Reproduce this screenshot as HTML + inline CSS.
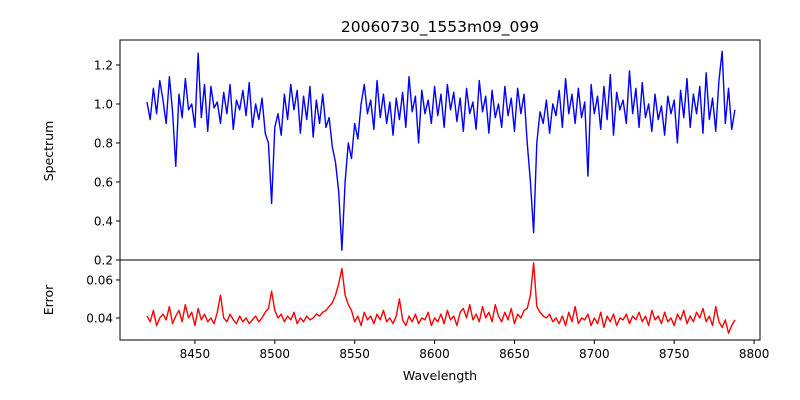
<!DOCTYPE html>
<html><head><meta charset="utf-8"><style>
body{margin:0;background:#fff;}
svg{display:block;font-family:"DejaVu Sans","Liberation Sans",sans-serif;}
</style></head><body>
<svg id="chart" width="800" height="400" viewBox="0 0 800 400"></svg>
<script>
const wavelengthStart = 8420;
const wavelengthStep = 2;
const spectrumValues = [
1.01,0.92,1.08,0.95,1.12,1.02,0.90,1.14,0.96,0.68,
1.05,0.93,1.13,0.97,1.00,0.88,1.26,0.93,1.10,0.86,
1.09,0.98,1.01,0.90,1.06,0.95,1.10,0.87,1.02,0.97,
1.07,0.94,1.11,0.88,1.00,0.92,1.03,0.85,0.80,0.49,
0.88,0.95,0.84,1.05,0.92,1.10,0.97,1.07,0.85,1.04,
0.92,1.09,0.83,1.02,0.90,1.05,0.88,0.93,0.78,0.70,
0.55,0.25,0.60,0.80,0.72,0.90,0.82,1.00,1.10,0.95,
1.02,0.87,1.12,0.93,1.05,0.90,1.01,0.84,1.03,0.92,
1.06,0.88,1.14,0.96,1.04,0.80,1.07,0.95,1.02,0.90,
1.09,0.94,1.05,0.88,1.10,0.97,1.06,0.91,1.03,0.86,
1.08,0.95,1.01,0.87,1.12,0.96,1.04,0.85,1.07,0.93,
1.00,0.88,1.09,0.94,1.03,0.86,1.08,0.95,1.05,0.80,
0.60,0.34,0.80,0.96,0.90,1.02,0.85,1.00,0.94,1.07,
0.88,1.13,0.95,1.05,0.90,1.08,0.93,1.01,0.63,1.10,
0.95,1.04,0.87,1.09,0.92,1.15,0.84,1.06,0.97,1.02,
0.90,1.17,0.95,1.08,0.88,1.11,0.93,1.00,0.86,1.05,
0.92,0.99,0.84,1.04,0.95,1.02,0.80,1.07,0.93,1.13,
0.88,1.05,0.95,1.09,0.85,1.16,0.92,1.03,0.86,1.12,
1.27,0.90,1.08,0.87,0.97];
const errorValues = [
.041,.038,.044,.036,.040,.042,.039,.046,.037,.041,
.044,.038,.047,.040,.043,.036,.045,.039,.042,.038,
.040,.037,.043,.052,.040,.038,.042,.039,.037,.041,
.038,.040,.037,.039,.041,.038,.040,.043,.045,.054,
.044,.040,.042,.038,.041,.039,.043,.037,.040,.038,
.041,.039,.040,.042,.041,.043,.044,.046,.048,.052,
.058,.066,.052,.047,.044,.038,.041,.036,.043,.039,
.041,.037,.042,.039,.044,.038,.040,.037,.041,.050,
.039,.036,.041,.038,.042,.037,.040,.039,.043,.036,
.040,.038,.042,.037,.044,.039,.041,.036,.043,.045,
.040,.047,.039,.042,.038,.046,.040,.043,.038,.047,
.041,.038,.043,.039,.045,.037,.042,.040,.044,.045,
.052,.069,.046,.043,.041,.040,.042,.038,.040,.037,
.041,.036,.043,.038,.046,.037,.040,.039,.042,.036,
.040,.037,.043,.035,.041,.038,.042,.036,.040,.039,
.042,.037,.041,.039,.043,.038,.041,.036,.044,.039,
.041,.037,.043,.038,.040,.036,.042,.039,.044,.037,
.041,.038,.043,.040,.045,.038,.041,.036,.046,.038,
.035,.039,.032,.036,.039];
const xTicks = [8450,8500,8550,8600,8650,8700,8750,8800];
const specTicks = [0.2,0.4,0.6,0.8,1.0,1.2];
const errTicks = [0.04,0.06];

const NS="http://www.w3.org/2000/svg";
const svg=document.getElementById('chart');
const L=120,R=760,T1=40,B1=260,T2=260,B2=340;
const xMin=8403.1,xMax=8803.7;
const sMin=0.2,sMax=1.328,eMin=0.0284,eMax=0.0705;
const xs=v=>L+(v-xMin)/(xMax-xMin)*(R-L);
const ys=v=>B1-(v-sMin)/(sMax-sMin)*(B1-T1);
const ye=v=>B2-(v-eMin)/(eMax-eMin)*(B2-T2);
function mk(tag,attrs,text){const e=document.createElementNS(NS,tag);for(const k in attrs)e.setAttribute(k,attrs[k]);if(text!==undefined)e.textContent=text;svg.appendChild(e);return e;}

function line(vals,yf,color,name){
  const d=vals.map((v,i)=>(i?'L':'M')+xs(wavelengthStart+i*wavelengthStep).toFixed(2)+','+yf(v).toFixed(2)).join('');
  const p=mk('path',{d:d,fill:'none',stroke:color,'stroke-width':1.4,'stroke-linejoin':'round'});
  
  
}
line(spectrumValues,ys,'#0000ff','spectrum-line');
line(errorValues,ye,'#ff0000','error-line');

const f1=mk('rect',{x:L,y:T1,width:R-L,height:B1-T1,fill:'none',stroke:'#000','stroke-width':1});


const f2=mk('rect',{x:L,y:T2,width:R-L,height:B2-T2,fill:'none',stroke:'#000','stroke-width':1});



xTicks.forEach(v=>{const x=xs(v);
  const t=mk('line',{x1:x,x2:x,y1:B2,y2:B2+4,stroke:'#000'});
  
  
  const l=mk('text',{x:x,y:B2+18,'text-anchor':'middle','font-size':12},String(v));
  
  
});
specTicks.forEach(v=>{const y=ys(v);
  const t=mk('line',{x1:L-4,x2:L,y1:y,y2:y,stroke:'#000'});
  
  
  const l=mk('text',{x:L-7,y:y+4.5,'text-anchor':'end','font-size':12},v.toFixed(1));
  
  
});
errTicks.forEach(v=>{const y=ye(v);
  const t=mk('line',{x1:L-4,x2:L,y1:y,y2:y,stroke:'#000'});
  
  
  const l=mk('text',{x:L-7,y:y+4.5,'text-anchor':'end','font-size':12},v.toFixed(2));
  
  
});

const ti=mk('text',{x:440,y:32,'text-anchor':'middle','font-size':15.5},'20060730_1553m09_099');


const xl=mk('text',{x:440,y:380,'text-anchor':'middle','font-size':12.5},'Wavelength');


const yl1=mk('text',{x:0,y:0,'text-anchor':'middle','font-size':12.5,transform:'translate(53,151) rotate(-90)'},'Spectrum');


const yl2=mk('text',{x:0,y:0,'text-anchor':'middle','font-size':12.5,transform:'translate(53,300) rotate(-90)'},'Error');


</script>
</body></html>
